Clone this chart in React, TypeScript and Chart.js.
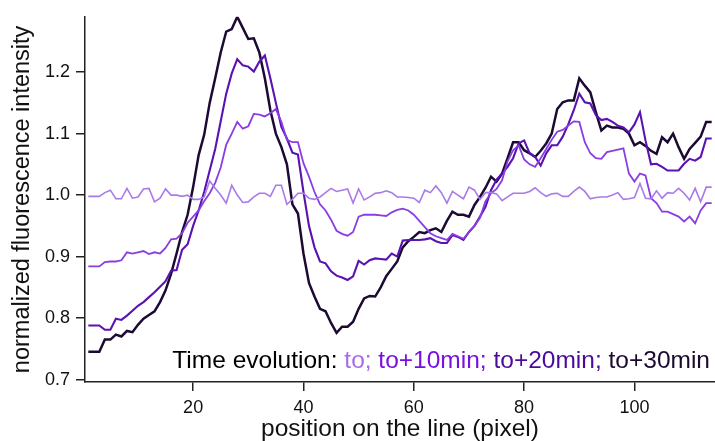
import { useEffect, useRef } from "react";
import { Chart, registerables } from "chart.js";

Chart.register(...registerables);

const FONT = '"Liberation Sans", Arial, Helvetica, sans-serif';

// pixel positions along the line (1..114)
const positions: number[] = Array.from({ length: 114 }, (_, i) => i + 1);

const seriesNames = ["to", "to+10min", "to+20min", "to+30min"];
const seriesColors = ["#a87be8", "#8a3de3", "#5a12b0", "#1c0a33"];
const legendColors = ["#a66ee6", "#7a10e0", "#4b0a9a", "#1a0a2e"];

const to0: number[] = [
  0.998, 0.998, 0.998, 1.004, 1.008, 0.994, 0.994, 1.011, 0.995, 0.997,
  1.010, 1.011, 0.989, 0.995, 1.010, 1.000, 1.000, 0.998, 1.000, 0.993,
  0.993, 0.997, 1.023, 1.011, 1.000, 0.987, 1.016, 1.000, 0.988, 0.989,
  0.997, 1.003, 1.003, 0.998, 1.016, 1.016, 0.985, 0.993, 1.003, 1.003,
  0.995, 0.993, 0.997, 1.004, 1.011, 1.006, 1.008, 1.010, 0.987, 1.010,
  0.992, 0.997, 1.003, 1.004, 1.007, 1.004, 0.997, 0.997, 0.996, 0.995,
  0.988, 1.008, 1.004, 1.015, 1.004, 0.987, 1.006, 1.000, 0.994, 1.013,
  1.008, 0.993, 1.004, 1.004, 1.002, 0.991, 0.997, 1.003, 1.003, 1.003,
  1.006, 1.012, 1.004, 0.998, 1.002, 1.003, 0.998, 0.998, 1.006, 1.013,
  1.006, 0.994, 0.996, 0.997, 0.997, 1.000, 1.004, 0.993, 0.994, 0.996,
  1.019, 0.995, 0.994, 1.007, 0.995, 1.004, 1.003, 1.011, 1.003, 0.992,
  1.011, 0.989, 1.013, 1.013,
];

const to10: number[] = [
  0.884, 0.884, 0.884, 0.891, 0.892, 0.892, 0.894, 0.907, 0.905, 0.907,
  0.909, 0.904, 0.907, 0.905, 0.914, 0.928, 0.929, 0.938, 0.955, 0.965,
  0.975, 0.990, 1.003, 1.020, 1.045, 1.082, 1.100, 1.119, 1.108, 1.112,
  1.132, 1.131, 1.128, 1.133, 1.140, 1.119, 1.090, 1.086, 1.086, 1.052,
  1.030, 1.005, 0.985, 0.975, 0.960, 0.942, 0.937, 0.934, 0.940, 0.965,
  0.968, 0.968, 0.968, 0.967, 0.966, 0.972, 0.976, 0.978, 0.975, 0.968,
  0.958, 0.948, 0.938, 0.933, 0.930, 0.927, 0.937, 0.933, 0.929, 0.940,
  0.950, 0.963, 0.990, 1.003, 1.010, 1.024, 1.055, 1.073, 1.081, 1.058,
  1.050, 1.046, 1.060, 1.075, 1.090, 1.103, 1.106, 1.113, 1.120, 1.119,
  1.086, 1.068, 1.060, 1.059, 1.070, 1.072, 1.074, 1.076, 1.035, 1.022,
  1.035, 1.032, 0.995, 0.987, 0.973, 0.973, 0.969, 0.965, 0.957, 0.965,
  0.954, 0.975, 0.987, 0.987,
];

const to20: number[] = [
  0.788, 0.788, 0.788, 0.781, 0.781, 0.799, 0.797, 0.804, 0.812, 0.820,
  0.826, 0.834, 0.842, 0.851, 0.860, 0.877, 0.878, 0.911, 0.920, 0.950,
  0.975, 1.005, 1.040, 1.075, 1.120, 1.165, 1.198, 1.221, 1.211, 1.209,
  1.201, 1.217, 1.227, 1.190, 1.150, 1.111, 1.092, 1.069, 1.066, 1.005,
  0.950, 0.915, 0.892, 0.889, 0.876, 0.869, 0.866, 0.862, 0.868, 0.893,
  0.887, 0.894, 0.897, 0.896, 0.895, 0.905, 0.900, 0.926, 0.927, 0.927,
  0.927, 0.928, 0.930, 0.925, 0.922, 0.922, 0.935, 0.932, 0.927, 0.940,
  0.950, 0.965, 0.981, 1.008, 1.025, 1.035, 1.046, 1.060, 1.084, 1.089,
  1.068, 1.062, 1.048, 1.068, 1.081, 1.081, 1.095, 1.115, 1.138, 1.165,
  1.151, 1.149, 1.130, 1.122, 1.124, 1.119, 1.113, 1.110, 1.102, 1.115,
  1.135, 1.089, 1.050, 1.051, 1.046, 1.040, 1.040, 1.040, 1.051, 1.059,
  1.056, 1.062, 1.092, 1.092,
];

const to30: number[] = [
  0.745, 0.745, 0.745, 0.765, 0.765, 0.773, 0.770, 0.779, 0.777, 0.789,
  0.799, 0.805, 0.811, 0.826, 0.845, 0.872, 0.905, 0.940, 0.968, 1.013,
  1.065, 1.098, 1.150, 1.190, 1.232, 1.266, 1.270, 1.290, 1.272, 1.254,
  1.255, 1.232, 1.190, 1.138, 1.100, 1.078, 1.050, 0.985, 0.970, 0.905,
  0.857, 0.835, 0.815, 0.811, 0.792, 0.776, 0.786, 0.786, 0.794, 0.815,
  0.832, 0.836, 0.835, 0.850, 0.868, 0.880, 0.892, 0.915, 0.925, 0.932,
  0.940, 0.938, 0.943, 0.946, 0.940, 0.958, 0.973, 0.968, 0.968, 0.965,
  0.984, 0.997, 1.012, 1.030, 1.022, 1.035, 1.060, 1.086, 1.086, 1.073,
  1.068, 1.062, 1.072, 1.084, 1.100, 1.140, 1.151, 1.154, 1.154, 1.190,
  1.178, 1.167, 1.135, 1.105, 1.113, 1.110, 1.110, 1.108, 1.100, 1.081,
  1.086, 1.080, 1.072, 1.067, 1.094, 1.086, 1.100, 1.078, 1.059, 1.075,
  1.085, 1.095, 1.119, 1.119,
];

const xTicks = [20, 40, 60, 80, 100];
const yTicks = [0.7, 0.8, 0.9, 1.0, 1.1, 1.2];

const legendLead = "Time evolution: ";
const legendLabels = ["to; ", "to+10min; ", "to+20min; ", "to+30min"];

const allSeries = [to0, to10, to20, to30];
const lineWidths = [1.6, 1.8, 2.1, 2.5];

const legendTextPlugin = {
  id: "timeLegendText",
  afterDraw(chart: any) {
    const ctx = chart.ctx as CanvasRenderingContext2D;
    const area = chart.chartArea;
    ctx.save();
    ctx.font = `24.5px ${FONT}`;
    ctx.textBaseline = "alphabetic";
    ctx.textAlign = "left";
    const parts = [{ t: legendLead, c: "#000000" }].concat(
      legendLabels.map((t, i) => ({ t, c: legendColors[i] }))
    );
    const total = parts.reduce((w, p) => w + ctx.measureText(p.t).width, 0);
    let x = area.right - 5 - total;
    const y = area.bottom - 14;
    for (const p of parts) {
      ctx.fillStyle = p.c;
      ctx.fillText(p.t, x, y);
      x += ctx.measureText(p.t).width;
    }
    ctx.restore();
  },
};

export default function App() {
  const ref = useRef<HTMLCanvasElement>(null);
  useEffect(() => {
    const canvas = ref.current;
    if (!canvas) return;
    const chart = new Chart(canvas, {
      type: "line",
      data: {
        datasets: allSeries.map((s, i) => ({
          label: seriesNames[i],
          data: s.map((v, j) => ({ x: positions[j], y: v })),
          borderColor: seriesColors[i],
          backgroundColor: seriesColors[i],
          borderWidth: lineWidths[i],
          pointRadius: 0,
          tension: 0,
          fill: false,
        })),
      },
      options: {
        responsive: false,
        animation: false,
        devicePixelRatio: 1,
        layout: { padding: { top: 16, left: 0, right: 0, bottom: 0 } },
        plugins: {
          legend: { display: false },
          tooltip: { enabled: false },
        },
        scales: {
          x: {
            type: "linear",
            min: 0.4,
            max: 114.6,
            afterBuildTicks: (s: any) => {
              s.ticks = xTicks.map((v) => ({ value: v }));
            },
            afterFit: (s: any) => {
              s.height = 59;
            },
            grid: {
              drawOnChartArea: false,
              drawTicks: true,
              tickLength: 9,
              color: "#222",
              lineWidth: 1.5,
            },
            border: { display: true, color: "#222", width: 1.5 },
            ticks: {
              font: { family: FONT, size: 18 },
              color: "#111",
              padding: 6,
              maxRotation: 0,
              autoSkip: false,
              callback: (v: any) => String(v),
            },
            title: {
              display: true,
              text: "position on the line (pixel)",
              font: { family: FONT, size: 24.5, lineHeight: 1 },
              color: "#111",
              padding: { top: 0, bottom: 0 },
            },
          },
          y: {
            type: "linear",
            min: 0.696,
            max: 1.29,
            afterBuildTicks: (s: any) => {
              s.ticks = yTicks.map((v) => ({ value: v }));
            },
            afterFit: (s: any) => {
              s.width = 85;
            },
            grid: {
              drawOnChartArea: false,
              drawTicks: true,
              tickLength: 9,
              color: "#222",
              lineWidth: 1.5,
            },
            border: { display: true, color: "#222", width: 1.5 },
            ticks: {
              font: { family: FONT, size: 18 },
              color: "#111",
              padding: 6,
              autoSkip: false,
              callback: (v: any) => Number(v).toFixed(1),
            },
            title: {
              display: true,
              text: "normalized fluorescence intensity",
              font: { family: FONT, size: 23.5, lineHeight: 1 },
              color: "#111",
              padding: { top: 11, bottom: 0 },
            },
          },
        },
      },
      plugins: [legendTextPlugin],
    } as any);
    return () => chart.destroy();
  }, []);
  return (
    <div style={{ position: "absolute", left: 0, top: 0, width: 715, height: 441 }}>
      <canvas ref={ref} width={715} height={441} style={{ display: "block" }} />
    </div>
  );
}
